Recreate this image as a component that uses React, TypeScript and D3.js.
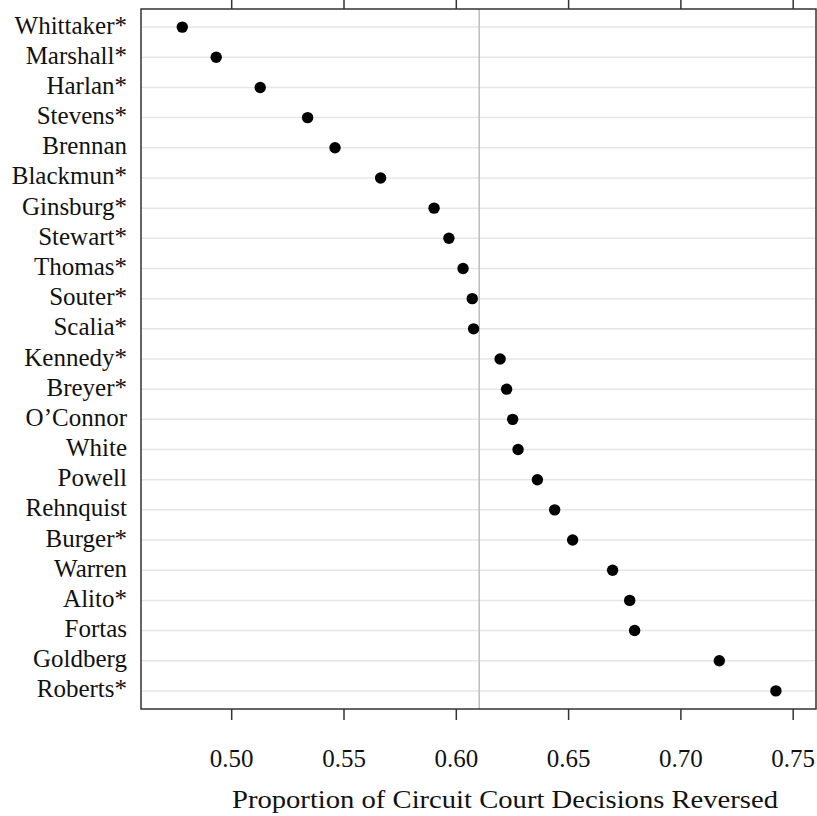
import React, { useEffect, useRef } from "react";
import * as d3 from "d3";

const justices = [
  "Whittaker*", "Marshall*", "Harlan*", "Stevens*", "Brennan", "Blackmun*",
  "Ginsburg*", "Stewart*", "Thomas*", "Souter*", "Scalia*", "Kennedy*",
  "Breyer*", "O\u2019Connor", "White", "Powell", "Rehnquist", "Burger*",
  "Warren", "Alito*", "Fortas", "Goldberg", "Roberts*",
];
const reversed = [
  0.478, 0.4931, 0.5127, 0.5338, 0.546, 0.5663,
  0.5901, 0.5967, 0.603, 0.6071, 0.6077, 0.6195,
  0.6224, 0.6251, 0.6275, 0.6361, 0.6438, 0.6518,
  0.6696, 0.6772, 0.6794, 0.7171, 0.7423,
];
const xTicks = [0.5, 0.55, 0.6, 0.65, 0.7, 0.75];
const referenceValue = 0.6102;
const xTitle = "Proportion of Circuit Court Decisions Reversed";

const W = 817, H = 816;
const panel = { left: 141, right: 816, top: 9, bottom: 709 };
const FONT = "'Liberation Serif', 'DejaVu Serif', serif";
const FS = 25;

export default function App() {
  const ref = useRef<SVGSVGElement>(null);
  useEffect(() => {
    const svg = d3.select(ref.current);
    svg.selectAll("*").remove();

    const x = d3.scaleLinear()
      .domain([0.5 + (panel.left - 231.7) / 2246, 0.5 + (panel.right - 231.7) / 2246])
      .range([panel.left, panel.right]);
    const y = d3.scalePoint<string>()
      .domain(justices)
      .range([panel.top, panel.bottom])
      .padding(0.6);

    svg.append("rect").attr("width", W).attr("height", H).attr("fill", "#fff");

    // gridlines
    svg.append("g").selectAll("line").data(justices).join("line")
      .attr("x1", panel.left).attr("x2", panel.right)
      .attr("y1", d => y(d)!).attr("y2", d => y(d)!)
      .attr("stroke", "#e6e6e6").attr("stroke-width", 1.5);

    // reference line
    svg.append("line")
      .attr("x1", x(referenceValue)).attr("x2", x(referenceValue))
      .attr("y1", panel.top).attr("y2", panel.bottom)
      .attr("stroke", "#bdbdbd").attr("stroke-width", 1.5);

    // dots
    svg.append("g").selectAll("circle").data(justices).join("circle")
      .attr("cx", (_, i) => x(reversed[i]))
      .attr("cy", d => y(d)!)
      .attr("r", 5.7)
      .attr("fill", "#000");

    // panel border
    svg.append("rect")
      .attr("x", panel.left).attr("y", panel.top)
      .attr("width", panel.right - panel.left).attr("height", panel.bottom - panel.top)
      .attr("fill", "none").attr("stroke", "#333").attr("stroke-width", 1.5);

    // bottom axis ticks
    svg.append("g").selectAll("line").data(xTicks).join("line")
      .attr("x1", d => x(d)).attr("x2", d => x(d))
      .attr("y1", panel.bottom).attr("y2", panel.bottom + 11)
      .attr("stroke", "#333").attr("stroke-width", 1.5);
    // top axis ticks
    svg.append("g").selectAll("line").data(xTicks).join("line")
      .attr("x1", d => x(d)).attr("x2", d => x(d))
      .attr("y1", panel.top).attr("y2", panel.top - 11)
      .attr("stroke", "#333").attr("stroke-width", 1.5);

    // tick labels
    svg.append("g").selectAll("text").data(xTicks).join("text")
      .attr("x", d => x(d)).attr("y", 766.5)
      .attr("text-anchor", "middle")
      .attr("font-family", FONT).attr("font-size", FS).attr("fill", "#111")
      .text(d => d3.format(".2f")(d));

    // y labels
    svg.append("g").selectAll("text").data(justices).join("text")
      .attr("x", 127).attr("y", d => y(d)!)
      .attr("dy", "0.26em")
      .attr("text-anchor", "end")
      .attr("font-family", FONT).attr("font-size", FS).attr("fill", "#111")
      .text(d => d);

    // title
    svg.append("text")
      .attr("x", 505).attr("y", 808)
      .attr("text-anchor", "middle")
      .attr("textLength", 546)
      .attr("lengthAdjust", "spacingAndGlyphs")
      .attr("font-family", FONT).attr("font-size", 26).attr("fill", "#111")
      .text(xTitle);
  }, []);
  return (
    <svg ref={ref} width={W} height={H}
      style={{ position: "absolute", left: 0, top: 0, display: "block" }} />
  );
}
